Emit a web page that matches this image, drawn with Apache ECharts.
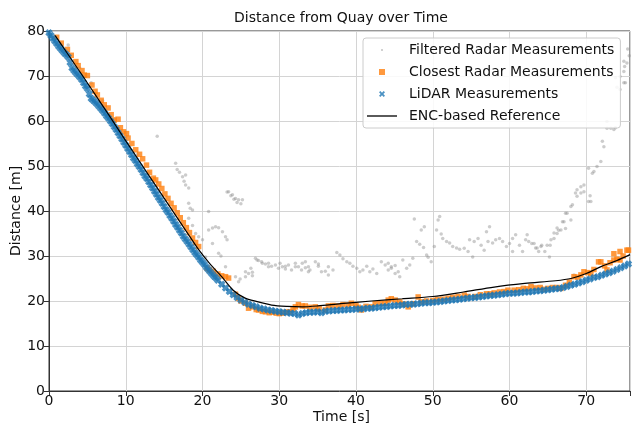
<!DOCTYPE html>
<html>
<head>
<meta charset="utf-8">
<script src="https://cdn.jsdelivr.net/npm/echarts@6/dist/echarts.min.js"></script>
<style>
  html, body { margin: 0; padding: 0; background: #fff; }
  #chart { width: 633px; height: 427px; }
</style>
</head>
<body>
<div id="chart"></div>
<script>
// distance [m] over time [s]
var filteredRadar = [
  [2.5,76.9],[4.0,71.8],[5.5,68.5],[7.0,64.5],[8.5,60.5],[10.0,56.5],[11.5,52.5],[13.0,48.6],
  [14.1,56.6],[16.5,50.6],[16.7,49.2],[17.0,48.6],[17.4,47.6],[17.8,48.0],[17.6,46.6],[17.8,45.8],
  [18.2,45.1],[18.2,41.7],[18.4,40.6],[18.7,40.2],[18.2,38.4],[18.7,36.8],[19.1,35.0],[19.5,34.3],
  [20.0,33.6],[20.8,39.9],[20.8,35.8],[21.3,36.2],[21.7,36.5],[22.1,36.3],[22.6,35.4],[23.0,34.3],
  [23.2,33.6],[21.3,32.8],[20.4,29.8],[22.1,30.6],[22.4,30.0],[23.0,27.6],[23.2,44.2],[23.4,44.3],
  [23.7,43.4],[23.9,43.6],[24.1,42.6],[24.3,42.8],[24.5,41.9],[24.7,42.5],[25.0,41.6],[25.2,42.5],
  [24.3,25.4],[24.7,24.3],[24.9,24.9],[25.6,25.4],[25.6,26.5],[26.0,26.1],[26.3,27.3],[26.5,25.6],
  [26.5,26.4],[26.9,29.5],[27.1,29.1],[27.3,29.0],[27.7,28.7],[27.8,28.4],[28.2,28.2],[28.6,28.4],
  [28.6,27.6],[29.0,27.7],[29.5,28.0],[29.9,27.3],[30.1,28.4],[30.4,27.6],[30.8,27.1],[30.8,27.7],
  [31.2,28.0],[31.6,26.9],[32.1,28.4],[32.1,27.6],[32.5,27.6],[32.9,26.9],[33.0,28.4],[33.4,28.7],
  [33.4,27.4],[33.8,27.6],[33.8,26.5],[34.0,26.9],[34.7,28.7],[35.1,27.7],[35.1,28.2],[35.5,26.5],
  [36.0,26.6],[36.4,25.8],[36.4,27.6],[37.0,26.9],[37.5,30.8],[37.9,30.2],[38.3,29.4],[38.8,28.7],
  [39.2,28.4],[39.6,27.7],[40.1,27.3],[40.5,26.5],[40.9,26.9],[41.4,27.7],[41.8,26.5],[42.2,27.1],
  [42.7,26.1],[43.3,28.7],[43.8,28.0],[44.2,26.9],[44.2,28.4],[44.6,27.6],[44.6,27.3],[45.1,26.1],
  [45.1,27.9],[45.5,26.5],[45.7,25.4],[46.1,29.1],[46.6,27.3],[47.0,28.0],[47.4,29.5],[47.6,38.2],
  [47.9,33.2],[48.3,32.6],[48.5,35.8],[48.8,31.9],[48.9,36.5],[49.2,30.2],[49.4,29.7],[49.8,28.7],
  [50.2,32.1],[50.5,35.8],[50.7,38.0],[50.9,38.8],[51.1,34.9],[51.3,33.9],[51.8,33.2],[52.2,32.9],
  [52.6,32.1],[53.1,31.8],[53.5,31.5],[54.1,31.7],[54.6,31.0],[55.2,29.8],[54.8,33.6],[55.4,33.2],
  [55.9,33.9],[56.3,32.4],[56.7,31.3],[57.0,35.4],[57.2,33.2],[57.4,36.5],[57.8,32.9],[58.2,33.6],
  [58.7,33.9],[59.1,33.2],[59.6,32.1],[60.0,32.8],[60.4,31.0],[60.4,33.9],[60.8,34.7],[61.3,32.4],
  [61.7,31.0],[62.1,33.6],[62.3,34.7],[62.5,33.2],[62.9,32.8],[63.2,32.8],[63.4,31.8],[63.6,31.8],
  [63.8,31.0],[64.1,32.1],[64.2,32.4],[64.6,31.0],[64.9,32.4],[65.2,29.8],[65.3,32.4],[65.4,33.6],
  [65.8,35.1],[65.8,33.9],[66.2,36.2],[66.2,35.0],[66.4,35.7],[66.7,35.8],[66.9,37.6],[67.1,37.6],
  [67.3,39.5],[67.3,36.1],[67.5,39.5],[68.0,41.0],[68.0,38.0],[68.2,41.4],[68.4,25.8],[68.6,44.0],
  [68.8,44.7],[68.8,43.3],[69.3,45.4],[69.3,44.0],[69.7,45.8],[69.7,44.3],[70.3,49.5],[70.3,42.1],
  [70.5,43.4],[70.6,42.1],[70.8,48.4],[71.0,48.8],[71.4,49.9],[71.9,51.0],[72.1,55.5],[72.3,54.3],
  [72.7,59.9],[72.7,58.4],[73.2,58.4],[73.6,58.1],[73.8,58.5],[73.8,69.6],[74.0,67.5],[74.4,67.0],
  [74.4,69.9],[74.9,71.0],[74.9,68.5],[74.9,73.3],[75.0,72.1],[75.1,68.5],[75.3,72.9],[75.4,76.0],
  [75.6,74.5]
];

var closestRadar = [
  [1.0,78.6],[1.6,77.3],[2.4,75.9],[2.9,74.6],[3.5,73.2],[3.8,72.3],[4.3,71.2],[4.6,70.2],
  [5.0,70.1],[5.6,68.0],[6.0,66.6],[6.3,65.8],[6.8,64.6],[7.2,63.6],[7.7,62.9],[8.1,61.4],
  [8.5,60.2],[9.0,60.4],[9.3,58.5],[9.7,57.6],[10.1,57.2],[10.3,56.2],[10.8,55.0],[11.3,53.6],
  [11.8,52.6],[12.2,51.6],[12.7,50.2],[13.1,48.6],[13.6,47.3],[13.9,46.9],[14.3,46.0],[14.7,45.0],
  [15.1,43.8],[15.5,42.8],[15.9,41.7],[16.3,40.7],[16.7,39.6],[17.1,38.5],[17.5,37.4],[17.9,36.3],
  [18.3,35.2],[18.7,34.0],[19.1,33.0],[19.5,32.1],[20.6,27.3],[20.9,26.9],[21.4,26.6],[22.0,26.0],
  [22.5,25.6],[23.0,25.4],[23.4,25.1],[24.3,21.5],[24.7,20.6],[25.0,20.0],[25.6,19.5],[26.0,18.4],
  [26.5,18.7],[27.0,18.1],[27.3,18.0],[27.8,17.7],[28.2,17.6],[28.7,17.4],[29.1,17.5],[29.6,17.3],
  [30.0,17.2],[30.4,17.3],[30.9,17.5],[31.3,17.6],[31.8,18.2],[32.1,18.7],[32.5,19.2],[33.0,18.9],
  [33.4,18.9],[34.0,18.6],[34.7,18.7],[35.2,18.3],[36.0,18.0],[36.4,18.9],[37.0,19.0],[37.7,18.9],
  [38.3,19.2],[39.0,19.1],[39.4,19.5],[40.0,19.0],[40.3,18.6],[40.7,18.0],[41.3,18.8],[42.0,18.7],
  [42.5,19.4],[43.2,19.5],[43.8,19.5],[44.2,20.2],[44.6,20.5],[45.1,20.2],[45.7,19.8],[46.2,19.3],
  [46.8,18.7],[47.4,19.4],[48.1,20.9],[48.5,19.8],[49.2,20.0],[50.0,20.1],[50.6,20.3],[51.3,20.4],
  [52.0,20.6],[52.6,20.8],[53.3,21.0],[54.1,21.3],[54.6,21.0],[55.5,21.0],[56.2,21.4],[57.0,21.6],
  [57.5,21.6],[58.0,21.8],[58.7,22.0],[59.3,22.1],[59.8,22.4],[60.6,22.4],[61.2,22.5],[61.8,22.8],
  [62.3,22.7],[62.8,23.2],[63.4,22.9],[64.0,23.0],[64.4,22.6],[65.0,22.8],[65.6,23.0],[66.2,23.0],
  [66.7,22.8],[67.3,23.5],[67.8,24.2],[68.4,25.4],[68.9,25.3],[69.3,25.8],[69.7,26.5],[70.2,26.3],
  [70.6,26.1],[71.0,27.0],[71.6,28.7],[71.9,28.7],[72.4,27.8],[72.7,26.9],[73.1,28.5],[73.6,29.1],
  [73.6,30.5],[74.0,29.3],[74.4,29.1],[74.4,31.0],[74.8,30.0],[75.3,31.3],[75.5,31.3]
];

var lidar = [
  [0,79.6],[0.25,79.0],[0.5,78.4],[0.75,77.8],[1,77.2],[1.25,76.6],[1.5,76.1],[1.75,75.6],
  [2,75.1],[2.25,74.7],[2.5,74.2],[2.75,73.0],[3,71.8],[3.25,71.2],[3.5,70.7],[3.75,70.3],
  [4,69.8],[4.25,69.2],[4.5,68.5],[4.75,67.8],[5,67.2],[5.25,66.0],[5.5,65.0],[5.75,64.6],
  [6,64.2],[6.25,63.8],[6.5,63.3],[6.75,62.8],[7,62.3],[7.25,61.7],[7.5,61.1],[7.75,60.6],
  [8,60.0],[8.25,59.4],[8.5,58.7],[8.75,58.1],[9,57.4],[9.25,56.7],[9.5,56.0],[9.75,55.3],
  [10,54.6],[10.25,53.9],[10.5,53.2],[10.75,52.5],[11,51.8],[11.25,51.2],[11.5,50.5],[11.75,49.9],
  [12,49.2],[12.25,48.5],[12.5,47.8],[12.75,47.2],[13,46.5],[13.25,45.8],[13.5,45.1],[13.75,44.4],
  [14,43.7],[14.25,43.0],[14.5,42.4],[14.75,41.7],[15,41.0],[15.25,40.3],[15.5,39.7],[15.75,39.0],
  [16,38.4],[16.25,37.7],[16.5,37.0],[16.75,36.4],[17,35.7],[17.25,35.1],[17.5,34.4],[17.75,33.8],
  [18,33.2],[18.25,32.6],[18.5,32.0],[18.75,31.4],[19,30.8],[19.25,30.3],[19.5,29.7],[19.75,29.1],
  [20,28.6],[20.25,28.1],[20.5,27.5],[20.75,27.0],[21,26.5],[21.25,26.0],[21.5,25.5],[21.75,25.1],
  [22,24.6],[22.5,23.7],[23,22.9],[23.5,22.1],[24,21.4],[24.5,20.8],[25,20.2],[25.5,19.7],
  [26,19.3],[26.5,19.0],[27,18.7],[27.5,18.4],[28,18.2],[28.5,18.0],[29,17.9],[29.5,17.7],
  [30,17.6],[30.5,17.5],[31,17.4],[31.5,17.3],[32,17.2],[32.5,16.9],[33,17.2],[33.5,17.4],
  [34,17.5],[34.5,17.5],[35,17.6],[35.5,17.4],[36,17.7],[36.5,17.8],[37,17.9],[37.5,17.9],
  [38,18.0],[38.5,18.0],[39,18.1],[39.5,18.1],[40,18.2],[40.5,18.2],[41,18.3],[41.5,18.4],
  [42,18.4],[42.5,18.5],[43,18.6],[43.5,18.7],[44,18.8],[44.5,18.9],[45,19.0],[45.5,19.0],
  [46,19.1],[46.5,19.2],[47,19.3],[47.5,19.3],[48,19.4],[48.5,19.5],[49,19.6],[49.5,19.6],
  [50,19.7],[50.5,19.8],[51,19.9],[51.5,20.0],[52,20.1],[52.5,20.2],[53,20.3],[53.5,20.4],
  [54,20.5],[54.5,20.6],[55,20.7],[55.5,20.8],[56,20.9],[56.5,21.0],[57,21.1],[57.5,21.2],
  [58,21.3],[58.5,21.4],[59,21.5],[59.5,21.6],[60,21.7],[60.5,21.7],[61,21.8],[61.5,21.9],
  [62,22.0],[62.5,22.0],[63,22.1],[63.5,22.2],[64,22.3],[64.5,22.4],[65,22.5],[65.5,22.6],
  [66,22.7],[66.5,22.8],[67,23.0],[67.5,23.2],[68,23.5],[68.5,23.7],[69,24.0],[69.5,24.3],
  [70,24.6],[70.5,24.9],[71,25.2],[71.5,25.4],[72,25.7],[72.5,26.0],[73,26.3],[73.5,26.6],
  [74,27.0],[74.5,27.4],[75,27.8],[75.5,28.2]
];

var encReference = [
  [0.8,79.0],[2,76.0],[4,71.0],[6,65.9],[8,60.8],[10,55.6],[12,50.5],[14,45.4],[16,40.3],
  [18,35.2],[19.5,31.4],[21,28.2],[22.5,25.4],[24,22.4],[25.5,20.7],[27,19.9],[29,19.1],
  [31,18.8],[33,18.7],[35,18.9],[38,19.4],[42,20.0],[46,20.5],[50,21.0],[54,22.0],[58,23.1],
  [62,23.9],[66,24.5],[68,25.0],[70,26.1],[72,27.7],[74,29.0],[75.7,30.3]
];

var xTicks = [0, 10, 20, 30, 40, 50, 60, 70];
var yTicks = [0, 10, 20, 30, 40, 50, 60, 70, 80];

var font = 'DejaVu Sans';
var fs = 14;
// chunky x for the dense lidar band, thin x for the legend
var xMarker = 'path://M0,3L3,0L5,2L7,0L10,3L8,5L10,7L7,10L5,8L3,10L0,7L2,5Z';
var xIcon = 'path://M0,2.2L2.2,0L5,2.8L7.8,0L10,2.2L7.2,5L10,7.8L7.8,10L5,7.2L2.2,10L0,7.8L2.8,5Z';
// small icons kept inside padded boxes so the legend shows them at marker size
var dotIcon = 'path://M0,0M6,6M2.1,2.1L3.9,2.1L3.9,3.9L2.1,3.9Z';
var squareIcon = 'path://M0,0L6,0L6,6L0,6Z';
var lineIcon = 'path://M0,0L30,0L30,1.3L0,1.3Z';

var chart = echarts.init(document.getElementById('chart'));

var option = {
  animation: false,
  backgroundColor: '#fff',
  textStyle: { fontFamily: font },
  title: {
    text: 'Distance from Quay over Time',
    left: 341,
    textAlign: 'center',
    top: 11,
    padding: 0,
    textStyle: { fontSize: fs, fontWeight: 'normal', color: '#111', fontFamily: font }
  },
  // axis titles placed as plain text, so the grid keeps its size
  graphic: [
    {
      type: 'text', left: 313, top: 410,
      style: { text: 'Time [s]', fill: '#111', font: fs + 'px ' + font }
    },
    {
      type: 'text', x: 16, y: 211, rotation: Math.PI / 2,
      style: { text: 'Distance [m]', fill: '#111', font: fs + 'px ' + font,
               align: 'center', verticalAlign: 'middle' }
    }
  ],
  grid: {
    left: 49, right: 0, top: 31, bottom: 36,
    containLabel: false,
    outerBounds: { left: 0, right: 0, top: 0, bottom: 0 },
    show: true, borderColor: '#333', borderWidth: 1
  },
  legend: {
    orient: 'vertical',
    left: 363,
    top: 38,
    padding: [5, 6, 5, 4],
    itemWidth: 30,
    itemHeight: 6,
    itemGap: 8,
    backgroundColor: 'rgba(255,255,255,0.85)',
    borderColor: '#cccccc',
    borderWidth: 1,
    borderRadius: 3,
    textStyle: { fontSize: fs, color: '#111', fontFamily: font, padding: [0, 0, 0, 7] },
    data: [
      { name: 'Filtered Radar Measurements', icon: dotIcon },
      { name: 'Closest Radar Measurements', icon: squareIcon },
      { name: 'LiDAR Measurements', icon: xIcon },
      { name: 'ENC-based Reference', icon: lineIcon }
    ]
  },
  xAxis: {
    type: 'value',
    min: 0,
    max: 75.7,
    interval: 10,
    axisLine: { show: true, lineStyle: { color: '#333', width: 1 } },
    axisTick: { show: true, length: 5, lineStyle: { color: '#333' } },
    axisLabel: {
      fontSize: fs, color: '#111', margin: 3, fontFamily: font,
      formatter: function (v) { return xTicks.indexOf(v) >= 0 ? String(v) : ''; }
    },
    splitLine: { show: true, lineStyle: { color: '#d4d4d4', width: 1 } }
  },
  yAxis: {
    type: 'value',
    min: 0,
    max: 80,
    interval: 10,
    axisLine: { show: true, lineStyle: { color: '#333', width: 1 } },
    axisTick: { show: true, length: 5, lineStyle: { color: '#333' } },
    axisLabel: {
      fontSize: fs, color: '#111', margin: 4, fontFamily: font,
      formatter: function (v) { return yTicks.indexOf(v) >= 0 ? String(v) : ''; }
    },
    splitLine: { show: true, lineStyle: { color: '#d4d4d4', width: 1 } }
  },
  series: [
    {
      name: 'Filtered Radar Measurements',
      type: 'scatter',
      data: filteredRadar,
      symbol: 'circle',
      symbolSize: 3.5,
      itemStyle: { color: 'rgba(140,140,140,0.55)' },
      z: 2
    },
    {
      name: 'Closest Radar Measurements',
      type: 'scatter',
      data: closestRadar,
      symbol: 'rect',
      symbolSize: 5.5,
      itemStyle: { color: '#ff7f0e' },
      z: 3
    },
    {
      name: 'LiDAR Measurements',
      type: 'scatter',
      data: lidar,
      symbol: xMarker,
      symbolSize: 7.5,
      itemStyle: { color: '#1f77b4' },
      z: 4
    },
    {
      name: 'ENC-based Reference',
      type: 'line',
      data: encReference,
      symbol: 'none',
      smooth: 0.3,
      lineStyle: { color: '#000', width: 1.2 },
      itemStyle: { color: '#000' },
      z: 5
    }
  ]
};

chart.setOption(option);
</script>
</body>
</html>
